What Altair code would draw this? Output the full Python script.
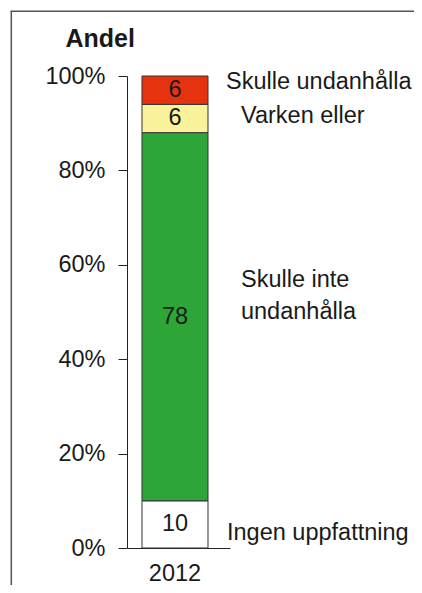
import altair as alt
import pandas as pd

# ---- data ----
year = "2012"
categories = ["Ingen uppfattning", "Skulle inte undanhålla", "Varken eller", "Skulle undanhålla"]
label_texts = ["Ingen uppfattning", "Skulle inte\nundanhålla", "Varken eller", "Skulle undanhålla"]
values = [10, 78, 6, 6]
colors = ["#FFFFFF", "#2EA637", "#F9F29B", "#E6330F"]
y_ticks = [0, 20, 40, 60, 80, 100]

# build table (cumulative stack, bottom to top)
starts, ends = [], []
acc = 0
for v in values:
    starts.append(acc)
    acc += v
    ends.append(acc)
df = pd.DataFrame({
    "year": [year] * len(values),
    "category": categories,
    "label": label_texts,
    "value": values,
    "start": starts,
    "end": ends,
    "mid": [(s + e) / 2 for s, e in zip(starts, ends)],
})

FONT = "Liberation Sans"
TXT = "#1a1a1a"
FS = 23.5

xscale = alt.Scale(paddingInner=0, paddingOuter=0.2803, align=0.405)
yscale = alt.Scale(domain=[0, 100], nice=False)

base = alt.Chart(df)

bars = base.mark_bar(stroke="#333333", strokeWidth=1).encode(
    x=alt.X("year:N", scale=xscale,
            axis=alt.Axis(title=None, ticks=False, tickSize=0, labelAngle=0,
                          labelPadding=13, labelFontSize=FS, labelFont=FONT,
                          labelColor=TXT, domainColor="#222222", domainWidth=1)),
    y=alt.Y("start:Q", scale=yscale,
            axis=alt.Axis(values=y_ticks, labelExpr="datum.value + '%'",
                          grid=False, tickSize=9, tickColor="#222222",
                          domainColor="#222222", labelPadding=13,
                          labelFontSize=FS, labelFont=FONT, labelColor=TXT,
                          title="Andel", titleAngle=0, titleAlign="left",
                          titleBaseline="alphabetic", titleX=-62, titleY=-30,
                          titleFont=FONT, titleFontSize=25, titleFontWeight="bold",
                          titleColor=TXT)),
    y2="end:Q",
    color=alt.Color("category:N", scale=alt.Scale(domain=categories, range=colors),
                    legend=None),
)

nums = base.mark_text(font=FONT, fontSize=FS, color=TXT, baseline="middle").encode(
    x=alt.X("year:N", scale=xscale),
    y=alt.Y("mid:Q", scale=yscale),
    text="value:Q",
)

# side label placement (pixel offsets from bar right edge / segment middle)
offsets = {
    "Skulle undanhålla": (18, -8),
    "Varken eller": (33, -2),
    "Skulle inte undanhålla": (33, -37),
    "Ingen uppfattning": (19, 9),
}
labels = []
for cat in categories:
    dx, dy = offsets[cat]
    labels.append(
        base.transform_filter(alt.datum.category == cat)
        .mark_text(font=FONT, fontSize=FS, color=TXT, align="left",
                   baseline="middle", dx=dx, dy=dy, lineBreak="\n", lineHeight=32)
        .encode(
            x=alt.X("year:N", scale=xscale, bandPosition=1),
            y=alt.Y("mid:Q", scale=yscale),
            text="label:N",
        )
    )

frame_df = pd.DataFrame({"k": [0]})
left_line = alt.Chart(frame_df).mark_rule(color="#555555", strokeWidth=1.5).encode(
    x=alt.value(-115.7), y=alt.value(-65), y2=alt.value(509)
)
top_line = alt.Chart(frame_df).mark_rule(color="#555555", strokeWidth=1.5).encode(
    y=alt.value(-64.7), x=alt.value(-116.4), x2=alt.value(287)
)

chart = alt.layer(left_line, top_line, bars, nums, *labels).properties(
    width=103,
    height=472,
    autosize=alt.AutoSizeParams(type="none"),
    padding={"left": 119, "top": 68, "right": 184, "bottom": 37},
).configure(background="white", view=alt.ViewConfig(stroke="transparent", strokeWidth=0))

chart.save("out.html", embed_options={"renderer": "svg", "actions": False})
